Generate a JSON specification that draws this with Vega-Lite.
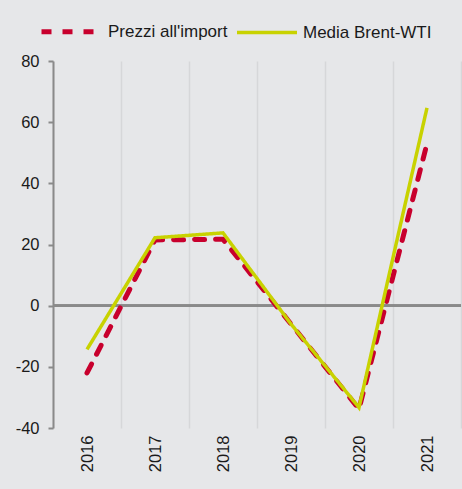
{
  "$schema": "https://vega.github.io/schema/vega-lite/v6.json",
  "width": 408,
  "height": 367,
  "autosize": {"type": "none"},
  "padding": {"left": 53, "top": 61, "right": 1, "bottom": 61},
  "background": "#e6e7e9",
  "config": {
    "view": {"stroke": null},
    "font": "Liberation Sans",
    "legend": {
      "orient": "none",
      "legendX": -14,
      "legendY": -62,
      "direction": "horizontal",
      "symbolType": "stroke",
      "symbolSize": 3600,
      "labelFontSize": 17,
      "labelColor": "#1a1a1a",
      "labelOffset": 4,
      "columnPadding": 2,
      "title": null
    }
  },
  "data": {
    "values": [
      {"anno": "2016", "serie": "Prezzi all'import", "valore": -22},
      {"anno": "2017", "serie": "Prezzi all'import", "valore": 21.5},
      {"anno": "2018", "serie": "Prezzi all'import", "valore": 21.7},
      {"anno": "2019", "serie": "Prezzi all'import", "valore": -6},
      {"anno": "2020", "serie": "Prezzi all'import", "valore": -33.8},
      {"anno": "2021", "serie": "Prezzi all'import", "valore": 53},
      {"anno": "2016", "serie": "Media Brent-WTI", "valore": -14.3},
      {"anno": "2017", "serie": "Media Brent-WTI", "valore": 22.2},
      {"anno": "2018", "serie": "Media Brent-WTI", "valore": 23.8},
      {"anno": "2019", "serie": "Media Brent-WTI", "valore": -6},
      {"anno": "2020", "serie": "Media Brent-WTI", "valore": -33.3},
      {"anno": "2021", "serie": "Media Brent-WTI", "valore": 64.7}
    ]
  },
  "encoding": {
    "x": {
      "field": "anno",
      "type": "ordinal",
      "scale": {"type": "band", "paddingInner": 0, "paddingOuter": 0},
      "axis": {
        "title": null,
        "labelAngle": -90,
        "labelAlign": "right",
        "labelBaseline": "middle",
        "labelPadding": 7,
        "ticks": false,
        "domain": false,
        "grid": true,
        "tickBand": "extent",
        "gridColor": "#d6d7d9",
        "gridWidth": 1.5,
        "labelFontSize": 16.5,
        "labelColor": "#1a1a1a"
      }
    }
  },
  "layer": [
    {
      "mark": {"type": "rule", "color": "#8a8a8a", "strokeWidth": 2},
      "encoding": {
        "x": null,
        "y": {
          "datum": 0,
          "type": "quantitative",
          "scale": {"domain": [-40, 80]},
          "axis": {
            "title": null,
            "values": [-40, -20, 0, 20, 40, 60, 80],
            "labelExpr": "toString(datum.value)",
            "domainColor": "#8a8a8a",
            "domainWidth": 2,
            "tickColor": "#8a8a8a",
            "tickWidth": 2,
            "tickSize": 5,
            "labelPadding": 9,
            "labelFontSize": 16.5,
            "labelColor": "#1a1a1a",
            "gridColor": "#d6d7d9",
            "gridWidth": 1.5
          }
        }
      }
    },
    {
      "transform": [{"filter": "datum.serie === \"Prezzi all'import\""}],
      "mark": {"type": "line", "strokeCap": "round"},
      "encoding": {
        "y": {"field": "valore", "type": "quantitative", "scale": {"domain": [-40, 80]}, "axis": {
            "title": null,
            "values": [-40, -20, 0, 20, 40, 60, 80],
            "labelExpr": "toString(datum.value)",
            "domainColor": "#8a8a8a",
            "domainWidth": 2,
            "tickColor": "#8a8a8a",
            "tickWidth": 2,
            "tickSize": 5,
            "labelPadding": 9,
            "labelFontSize": 16.5,
            "labelColor": "#1a1a1a",
            "gridColor": "#d6d7d9",
            "gridWidth": 1.5
          }},
        "color": {"field": "serie", "type": "nominal", "scale": {"domain": ["Prezzi all'import", "Media Brent-WTI"], "range": ["#c8002d", "#c8d200"]}},
        "strokeDash": {"field": "serie", "type": "nominal", "scale": {"domain": ["Prezzi all'import", "Media Brent-WTI"], "range": [[10, 11], [1, 0]]}},
        "strokeWidth": {"field": "serie", "type": "nominal", "scale": {"domain": ["Prezzi all'import", "Media Brent-WTI"], "range": [5, 3.5]}}
      }
    },
    {
      "transform": [{"filter": "datum.serie === 'Media Brent-WTI'"}],
      "mark": {"type": "line", "strokeCap": "butt"},
      "encoding": {
        "y": {"field": "valore", "type": "quantitative"},
        "color": {"field": "serie", "type": "nominal"},
        "strokeDash": {"field": "serie", "type": "nominal"},
        "strokeWidth": {"field": "serie", "type": "nominal"}
      }
    }
  ]
}
